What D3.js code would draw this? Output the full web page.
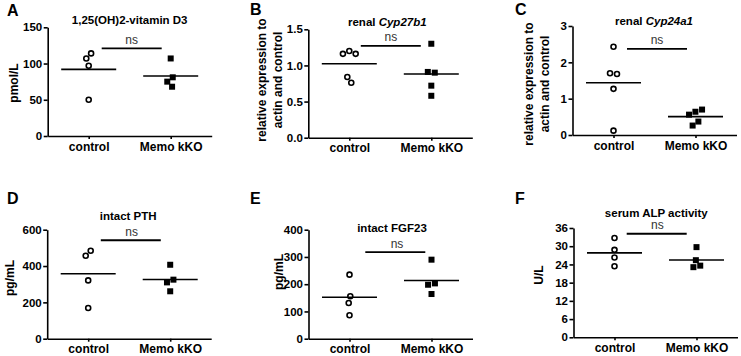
<!DOCTYPE html>
<html lang="en">
  <head>
    <meta charset="UTF-8" />
    <title>Memo kKO mineral metabolism</title>
    <script src="https://cdn.jsdelivr.net/npm/d3@7"></script>
    <style>
      body { margin: 0; background: #fff; }
      svg { font-family: "Liberation Sans", Arial, sans-serif; }
    </style>
  </head>

  <body>
    <script>
      // groups on the x axis
      var groups = ["control", "Memo kKO"];

      // values per panel
      var vitD_control = [107, 114, 97, 50];
      var vitD_kko = [107, 81, 75, 68];
      var cyp27b1_control = [1.16, 1.16, 1.20, 0.76, 0.84];
      var cyp27b1_kko = [1.30, 0.90, 0.91, 0.72, 0.58];
      var cyp24a1_control = [2.43, 1.68, 1.70, 1.27, 0.12];
      var cyp24a1_kko = [0.64, 0.70, 0.56, 0.37, 0.26];
      var pth_control = [457, 484, 321, 169];
      var pth_kko = [407, 325, 310, 261];
      var fgf23_control = [235, 156, 131, 86];
      var fgf23_kko = [290, 203, 198, 164];
      var alp_control = [32.7, 28.8, 26.3, 23.4];
      var alp_kko = [29.7, 25.4, 23.1, 23.6];

      // y tick values
      var vitD_ticks = [0, 50, 100, 150];
      var cyp27b1_ticks = [0, 0.5, 1.0, 1.5];
      var cyp24a1_ticks = [0, 1, 2, 3];
      var pth_ticks = [0, 200, 400, 600];
      var fgf23_ticks = [0, 100, 200, 300, 400];
      var alp_ticks = [0, 6, 12, 18, 24, 30, 36];

      // height of the "ns" bracket, in data units
      var nsLevels = [121, 1.27, 2.37, 542, 318, 34.1];

      var panels = [
        { letter: "A", title: ["1,25(OH)2-vitamin D3"], ylab: ["pmol/L"],
          values: [vitD_control, vitD_kko], ticks: vitD_ticks, fmt: d3.format("d") },
        { letter: "B", title: ["renal ", "Cyp27b1"], ylab: ["relative expression to", "actin and control"],
          values: [cyp27b1_control, cyp27b1_kko], ticks: cyp27b1_ticks, fmt: d3.format(".1f") },
        { letter: "C", title: ["renal ", "Cyp24a1"], ylab: ["relative expression to", "actin and control"],
          values: [cyp24a1_control, cyp24a1_kko], ticks: cyp24a1_ticks, fmt: d3.format("d") },
        { letter: "D", title: ["intact PTH"], ylab: ["pg/mL"],
          values: [pth_control, pth_kko], ticks: pth_ticks, fmt: d3.format("d") },
        { letter: "E", title: ["intact FGF23"], ylab: ["pg/mL"],
          values: [fgf23_control, fgf23_kko], ticks: fgf23_ticks, fmt: d3.format("d") },
        { letter: "F", title: ["serum ALP activity"], ylab: ["U/L"],
          values: [alp_control, alp_kko], ticks: alp_ticks, fmt: d3.format("d") }
      ];

      // where each panel sits on the page
      var layout = [
        { x0: 47.7, top: 27.3, bottom: 136, lx: 7, ly: 16, tx: 82, ty: 23.5, yl: [-34], ylc: 83, ns: 84, nt: 84 },
        { x0: 308.3, top: 29.3, bottom: 137.7, lx: 250, ly: 15, tx: 79, ty: 25.5, yl: [-47, -31], ylc: 80, ns: 82.5, nt: 82.5 },
        { x0: 572.5, top: 26, bottom: 135, lx: 515, ly: 15, tx: 81.5, ty: 24.5, yl: [-44, -27.5], ylc: 84, ns: 84.5, nt: 84.5 },
        { x0: 47.2, top: 229.7, bottom: 338.7, lx: 7, ly: 204, tx: 81, ty: 219.5, yl: [-37], ylc: 278, ns: 83.6, nt: 84.5 },
        { x0: 308.5, top: 229.7, bottom: 338.7, lx: 250, ly: 204, tx: 83.5, ty: 232, yl: [-29.5], ylc: 272, ns: 86.8, nt: 88.5 },
        { x0: 573.5, top: 228, bottom: 337.3, lx: 515, ly: 204, tx: 82.8, ty: 216.5, yl: [-34.4], ylc: 275, ns: 83.2, nt: 83.8 }
      ];

      var W = 164;

      var svg = d3.select("body").append("svg")
        .attr("width", 741)
        .attr("height", 356);

      panels.forEach(function(p, i) {
        var L = layout[i];
        var h = L.bottom - L.top;

        var yScale = d3.scaleLinear()
          .domain([0, d3.max(p.ticks)])
          .range([h, 0]);
        var xScale = d3.scalePoint()
          .domain(groups)
          .range([0, W])
          .padding(0.5);

        // panel letter
        svg.append("text")
          .attr("x", L.lx)
          .attr("y", L.ly)
          .attr("font-size", "16px")
          .attr("font-weight", "bold")
          .text(p.letter);

        // title, with gene names in italics
        var title = svg.append("text")
          .attr("x", L.x0 + L.tx)
          .attr("y", L.ty)
          .attr("text-anchor", "middle")
          .attr("font-size", "11.5px")
          .attr("font-weight", "bold");
        p.title.forEach(function(part, k) {
          title.append("tspan")
            .attr("font-style", k == 1 ? "italic" : "normal")
            .text(part);
        });

        // y label
        p.ylab.forEach(function(line, k) {
          svg.append("text")
            .attr("transform", "translate(" + (L.x0 + L.yl[k]) + "," + L.ylc + ") rotate(-90)")
            .attr("text-anchor", "middle")
            .attr("dy", "0.35em")
            .attr("font-size", "12px")
            .attr("font-weight", "bold")
            .text(line);
        });

        var g = svg.append("g")
          .attr("transform", "translate(" + L.x0 + "," + L.top + ")");

        var yAxis = g.append("g")
          .call(d3.axisLeft(yScale)
            .tickValues(p.ticks)
            .tickFormat(p.fmt)
            .tickSize(4)
            .tickPadding(1.5)
            .tickSizeOuter(0));
        yAxis.selectAll("text")
          .attr("font-size", "11.5px")
          .attr("font-weight", "bold")
          .attr("fill", "#000");

        var xAxis = g.append("g")
          .attr("transform", "translate(0," + h + ")")
          .call(d3.axisBottom(xScale)
            .tickSize(3)
            .tickPadding(3)
            .tickSizeOuter(0));
        xAxis.selectAll("text")
          .attr("font-size", "12px")
          .attr("font-weight", "bold")
          .attr("fill", "#000");

        g.selectAll(".domain, .tick line")
          .attr("stroke", "#000")
          .attr("stroke-width", 1.6);

        // points, spread sideways like a column scatter
        groups.forEach(function(grp, gi) {
          var cx = xScale(grp);
          var nodes = p.values[gi].map(function(v, j) {
            return { v: v, fy: yScale(v), x: cx + (j % 2 ? 0.3 : -0.3) * (j + 1) };
          });
          d3.forceSimulation(nodes)
            .force("x", d3.forceX(cx).strength(0.08))
            .force("collide", d3.forceCollide(3.5).iterations(3))
            .stop()
            .tick(300);

          if (gi == 0) {
            g.selectAll(".pt" + gi)
              .data(nodes)
              .enter()
              .append("circle")
              .attr("class", "pt" + gi)
              .attr("cx", function(d) { return d.x; })
              .attr("cy", function(d) { return d.fy; })
              .attr("r", 2.5)
              .attr("fill", "#fff")
              .attr("stroke", "#000")
              .attr("stroke-width", 1.6);
          } else {
            g.selectAll(".pt" + gi)
              .data(nodes)
              .enter()
              .append("rect")
              .attr("class", "pt" + gi)
              .attr("x", function(d) { return d.x - 3; })
              .attr("y", function(d) { return d.fy - 3; })
              .attr("width", 6)
              .attr("height", 6)
              .attr("fill", "#000");
          }

          // mean line
          var m = d3.mean(p.values[gi]);
          g.append("line")
            .attr("x1", cx - 27.5)
            .attr("x2", cx + 27.5)
            .attr("y1", yScale(m))
            .attr("y2", yScale(m))
            .attr("stroke", "#000")
            .attr("stroke-width", 1.6);
        });

        // ns bracket
        var nsY = yScale(nsLevels[i]);
        g.append("line")
          .attr("x1", L.ns - 30)
          .attr("x2", L.ns + 30)
          .attr("y1", nsY)
          .attr("y2", nsY)
          .attr("stroke", "#000")
          .attr("stroke-width", 1.8);
        g.append("text")
          .attr("x", L.nt)
          .attr("y", nsY - 4.5)
          .attr("text-anchor", "middle")
          .attr("font-size", "12px")
          .attr("fill", "#333")
          .text("ns");
      });
    </script>
  </body>
</html>
